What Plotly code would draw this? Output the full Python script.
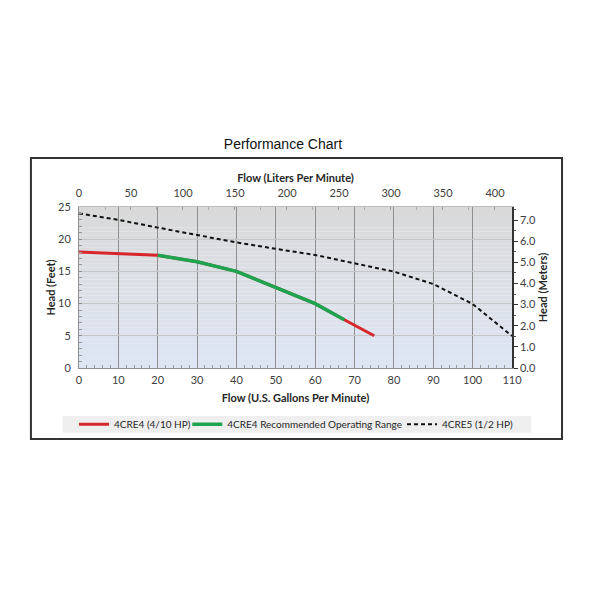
import plotly.graph_objects as go

# ---- data ----
gpm_4cre4 = [0, 10, 20, 30, 40, 50, 60, 67.4, 75]
head_4cre4 = [18.0, 17.8, 17.5, 16.5, 15.0, 12.5, 10.0, 7.5, 5.0]

gpm_range = [20, 30, 40, 50, 60, 67.4]
head_range = [17.5, 16.5, 15.0, 12.5, 10.0, 7.5]

gpm_4cre5 = [0, 10, 20, 30, 40, 50, 60, 70, 80, 90, 100, 110]
head_4cre5 = [24.0, 23.0, 21.8, 20.65, 19.5, 18.5, 17.55, 16.25, 14.96, 13.04, 9.94, 4.97]

x_ticks_gpm = [0, 10, 20, 30, 40, 50, 60, 70, 80, 90, 100, 110]
x_ticks_lpm = [0, 50, 100, 150, 200, 250, 300, 350, 400]
y_ticks_ft = [0, 5, 10, 15, 20, 25]
y_ticks_m = [0, 1, 2, 3, 4, 5, 6, 7]

GAL_TO_L = 3.78541
FT_TO_M = 0.3048

FONT = "Lato"
TICKC = "#404040"

fig = go.Figure()

fig.add_trace(go.Scatter(x=gpm_4cre4, y=head_4cre4, mode="lines",
                         name="4CRE4 (4/10 HP)",
                         line=dict(color="#d7262c", width=3),
                         legend="legend"))
fig.add_trace(go.Scatter(x=gpm_range, y=head_range, mode="lines",
                         name="4CRE4 Recommended Operating Range",
                         line=dict(color="#1ea34f", width=3.5),
                         legend="legend2"))
fig.add_trace(go.Scatter(x=gpm_4cre5, y=head_4cre5, mode="lines",
                         name="4CRE5 (1/2 HP)",
                         line=dict(color="#111111", width=2, dash="4px,3px"),
                         legend="legend3"))
# invisible traces to activate the secondary axes
fig.add_trace(go.Scatter(x=[0, 110 * GAL_TO_L], y=[None, None], xaxis="x2",
                         showlegend=False, hoverinfo="skip"))
fig.add_trace(go.Scatter(x=[None, None], y=[0, 25 * FT_TO_M], yaxis="y2",
                         showlegend=False, hoverinfo="skip"))

# gradient background of the plot area
shapes = []
n = 40
top = (217, 217, 217)
bot = (222, 230, 244)
for i in range(n):
    t = i / (n - 1)
    c = tuple(round(top[k] + (bot[k] - top[k]) * t) for k in range(3))
    shapes.append(dict(type="rect", xref="x domain", yref="y domain",
                       x0=0, x1=1, y0=1 - (i + 1) / n, y1=1 - i / n,
                       fillcolor="rgb(%d,%d,%d)" % c, line=dict(width=0),
                       layer="below"))
# outer frame
shapes.append(dict(type="rect", xref="paper", yref="paper",
                   x0=-0.111, x1=1.1155, y0=-0.441, y1=1.304,
                   line=dict(color="#333333", width=2), fillcolor="rgba(0,0,0,0)",
                   layer="above"))
# legend band
shapes.append(dict(type="rect", xref="paper", yref="paper",
                   x0=-0.038, x1=1.044, y0=-0.402, y1=-0.298,
                   line=dict(width=0), fillcolor="#efefef", layer="below"))

axis_font = dict(family=FONT, size=11, color=TICKC)
title_font = dict(family=FONT, size=11, color="#262626", weight="bold")
leg_font = dict(family=FONT, size=10, color="#262626")

fig.update_layout(
    width=590, height=590,
    margin=dict(l=71, r=86, t=199, b=230),
    paper_bgcolor="white",
    plot_bgcolor="white",
    shapes=shapes,
    title=dict(text="Performance Chart", x=0.466, xanchor="center",
               y=1 - 136 / 590, yanchor="middle",
               font=dict(family="Liberation Sans", size=14, color="#111111")),
    xaxis=dict(range=[0, 110], tickvals=x_ticks_gpm, showgrid=True,
               gridcolor="#8f8f8f", gridwidth=1, zeroline=False,
               showline=True, linecolor="#8f8f8f", linewidth=1,
               ticks="inside", ticklen=3, tickcolor="#8f8f8f",
               minor=dict(dtick=2, ticks="inside", ticklen=3, tickcolor="#9a9a9a",
                          showgrid=False),
               tickfont=axis_font, ticklabelstandoff=2,
               title=dict(text="Flow (U.S. Gallons Per Minute)", font=title_font, standoff=9)),
    xaxis2=dict(range=[0, 110 * GAL_TO_L], tickvals=x_ticks_lpm, overlaying="x",
                side="top", showgrid=False, zeroline=False,
                showline=True, linecolor="#bdbdbd", linewidth=1,
                ticks="inside", ticklen=3, tickcolor="#9a9a9a",
                minor=dict(dtick=25, ticks="inside", ticklen=3, tickcolor="#b0b0b0",
                           showgrid=False),
                tickfont=axis_font, ticklabelstandoff=5,
                title=dict(text="Flow (Liters Per Minute)", font=title_font, standoff=0)),
    yaxis=dict(range=[0, 25], tickvals=y_ticks_ft, showgrid=True,
               gridcolor="#c6c6c6", gridwidth=1, zeroline=False,
               showline=True, linecolor="#8f8f8f", linewidth=1,
               ticks="inside", ticklen=3, tickcolor="#8f8f8f",
               minor=dict(dtick=1, ticks="inside", ticklen=3, tickcolor="#9a9a9a",
                          showgrid=False),
               tickfont=axis_font, ticklabelstandoff=5,
               title=dict(text="Head (Feet)", font=title_font, standoff=0)),
    yaxis2=dict(range=[0, 25 * FT_TO_M], tickvals=y_ticks_m, tickformat=".1f",
                overlaying="y", side="right", showgrid=False, zeroline=False,
                showline=True, linecolor="#333333", linewidth=1.5,
                ticks="outside", ticklen=4, tickcolor="#333333",
                minor=dict(dtick=0.5, ticks="outside", ticklen=2, tickcolor="#555555",
                           showgrid=False),
                tickfont=axis_font,
                title=dict(text="Head (Meters)", font=title_font, standoff=4)),
    legend=dict(x=-0.0115, y=-0.35, xanchor="left", yanchor="middle",
                bgcolor="rgba(0,0,0,0)", font=leg_font),
    legend2=dict(x=0.250, y=-0.35, xanchor="left", yanchor="middle",
                 bgcolor="rgba(0,0,0,0)", font=leg_font),
    legend3=dict(x=0.746, y=-0.35, xanchor="left", yanchor="middle",
                 bgcolor="rgba(0,0,0,0)", font=leg_font),
)

fig.write_html("out.html")
